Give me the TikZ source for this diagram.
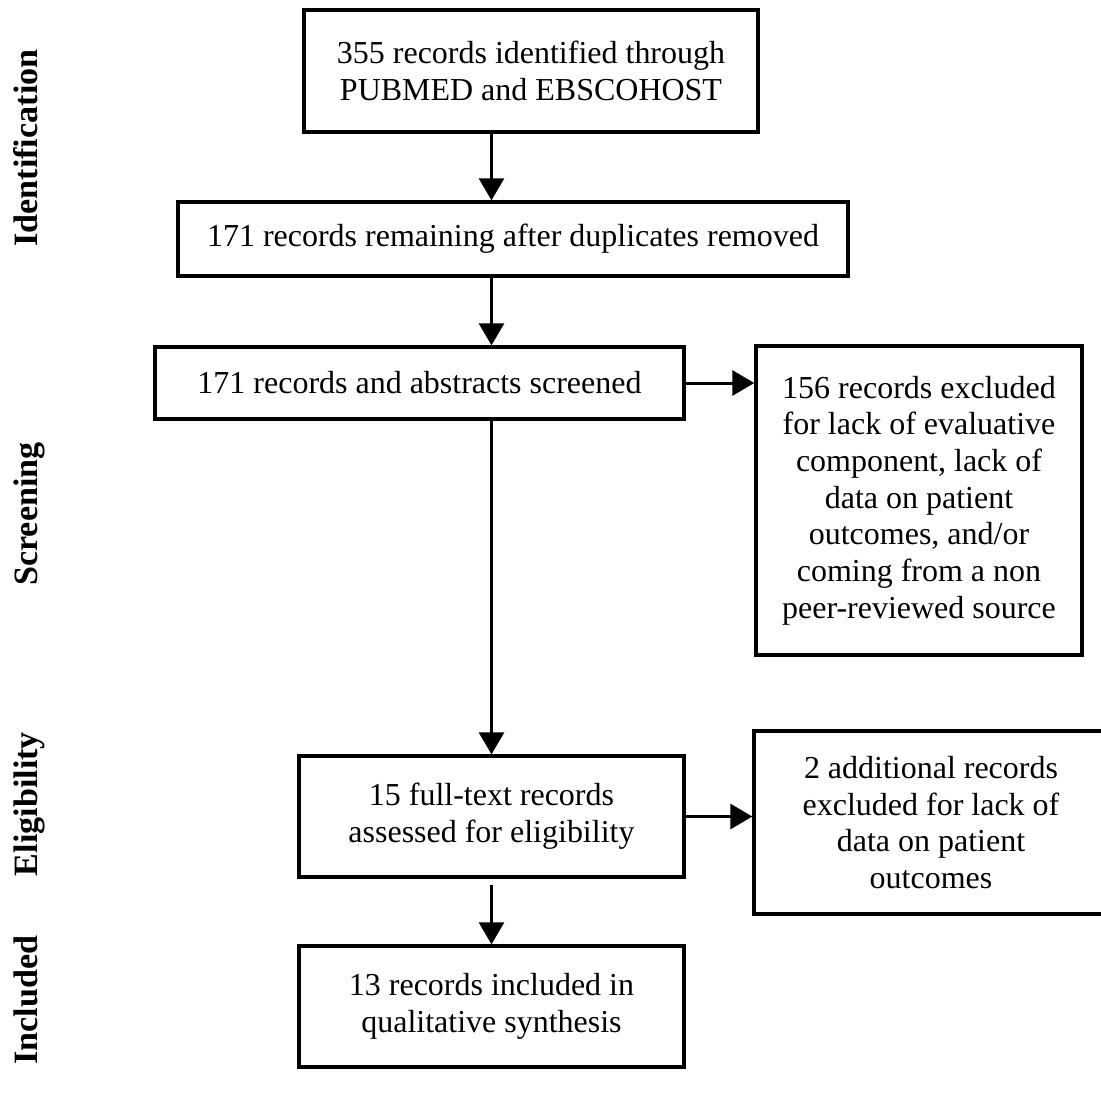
\documentclass[tikz,border=0pt]{standalone}
\usepackage{fontspec}
\setmainfont{Liberation Serif}
\usetikzlibrary{positioning,arrows.meta}

\begin{document}
\begin{tikzpicture}[on grid, auto,
	box/.style={draw, line width=1.9pt, align=center, inner sep=2pt, font=\fontsize{18.2}{20.9}\selectfont},
	stage/.style={rotate=90, anchor=base, font=\fontsize{19.4}{22}\selectfont\bfseries},
	flow/.style={-{Triangle[length=0.44cm,width=0.5cm]}, line width=1.7pt}]
	\useasboundingbox (0,0) rectangle (22.02,-21.84);

	\node[box, minimum width=9.08cm, minimum height=2.44cm] (ident) at (10.62,-1.42) {355 records identified through\\PUBMED and EBSCOHOST};
	\node[box, minimum width=13.4cm, minimum height=1.48cm] (dedup) [below left=3.36cm and 0.36cm of ident] {171 records remaining after duplicates removed};
	\node[box, minimum width=10.58cm, minimum height=1.44cm] (screen) [below left=2.88cm and 1.87cm of dedup] {171 records and abstracts screened};
	\node[box, minimum width=6.52cm, minimum height=6.18cm] (excl1) [below right=2.35cm and 9.99cm of screen] {156 records excluded\\for lack of evaluative\\component, lack of\\data on patient\\outcomes, and/or\\coming from a non\\peer-reviewed source};
	\node[box, minimum width=7.7cm, minimum height=2.42cm] (fulltext) [below right=8.67cm and 1.44cm of screen] {15 full-text records\\assessed for eligibility};
	\node[box, minimum width=7.08cm, minimum height=3.66cm] (excl2) [below right=0.12cm and 8.79cm of fulltext] {2 additional records\\excluded for lack of\\data on patient\\outcomes};
	\node[box, minimum width=7.7cm, minimum height=2.42cm] (incl) [below=3.8cm of fulltext] {13 records included in\\qualitative synthesis};

	% stages
	\node[stage] (sid) at (0.74,-2.96) {Identification};
	\node[stage] (sscr) at (0.74,-10.28) {Screening};
	\node[stage] (selig) at (0.74,-16.08) {Eligibility};
	\node[stage] (sinc) at (0.74,-20.0) {Included};

	\draw[flow] (ident.south -| fulltext.north) -- (dedup.north -| fulltext.north);
	\draw[flow] (dedup.south -| fulltext.north) -- (screen.north -| fulltext.north);
	\draw[flow] (screen.south -| fulltext.north) -- (fulltext.north);
	\draw[flow] (screen.east) -- (excl1.west |- screen.east);
	\draw[flow] (fulltext.east) -- (excl2.west |- fulltext.east);
	\draw[flow, shorten <=0.12cm] (fulltext.south) -- (incl.north);
\end{tikzpicture}
\end{document}
